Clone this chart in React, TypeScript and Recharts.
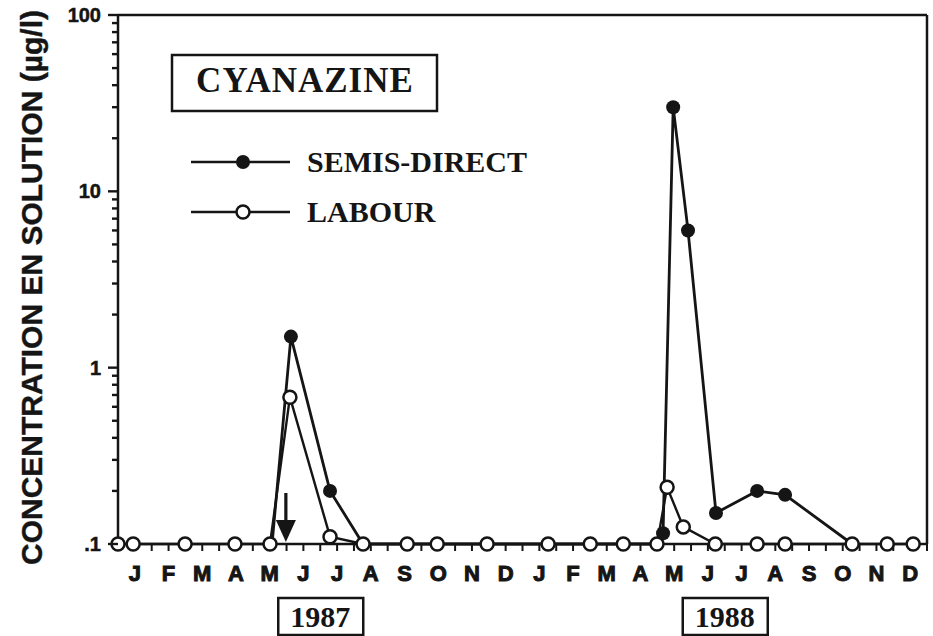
import {
  LineChart,
  Line,
  XAxis,
  YAxis,
  Legend,
  ReferenceLine,
  ReferenceDot,
} from 'recharts';

// months since 1 Jan 1987, concentration in µg/l
const semisMonths = [4.57, 5.13, 6.29, 7.27, 15.93, 16.17, 16.47, 16.91, 17.74, 18.96, 19.79, 21.78];
const semisValues = [0.1, 1.5, 0.2, 0.1, 0.1, 0.115, 30, 6, 0.15, 0.2, 0.19, 0.1];

const labourMonths = [
  0, 0.45, 1.99, 3.47, 4.51, 5.1, 6.29, 7.27, 8.58, 9.47, 10.95, 12.76, 14.01, 14.99, 15.99, 16.29,
  16.77, 17.72, 18.96, 19.79, 21.78, 22.82, 23.59,
];
const labourValues = [
  0.1, 0.1, 0.1, 0.1, 0.1, 0.68, 0.11, 0.1, 0.1, 0.1, 0.1, 0.1, 0.1, 0.1, 0.1, 0.21, 0.125, 0.1, 0.1,
  0.1, 0.1, 0.1, 0.1,
];

const seriesNames = ['SEMIS-DIRECT', 'LABOUR'];
const monthLabels = ['J', 'F', 'M', 'A', 'M', 'J', 'J', 'A', 'S', 'O', 'N', 'D'];
const years = [
  { at: 6, label: '1987' },
  { at: 18, label: '1988' },
];
const decadeTicks = [0.1, 1, 10, 100];
const decadeLabels = ['.1', '1', '10', '100'];
const minorTicks = [
  0.2, 0.3, 0.4, 0.5, 0.6, 0.7, 0.8, 0.9, 2, 3, 4, 5, 6, 7, 8, 9, 20, 30, 40, 50, 60, 70, 80, 90,
];
const applicationMonth = 4.98;

const semisData = semisMonths.map((m, i) => ({ m, v: semisValues[i] }));
const labourData = labourMonths.map((m, i) => ({ m, v: labourValues[i] }));
const xTicks = Array.from({ length: 49 }, (_, i) => i / 2);
const yTicks = [...decadeTicks, ...minorTicks].sort((a, b) => a - b);

const INK = '#151515';
const SANS = '"Liberation Sans", Arial, sans-serif';
const SERIF = '"Liberation Serif", "Times New Roman", serif';

const MonthTick = ({ x, y, payload }: any) => {
  const v = payload.value;
  const year = years.find((yr) => yr.at === v);
  const isMid = v % 1 === 0.5;
  return (
    <g>
      {isMid && (
        <text
          x={x}
          y={y + 26}
          textAnchor="middle"
          fontFamily={SANS}
          fontWeight={700}
          fontSize={22}
          fill={INK}
          stroke={INK}
          strokeWidth={1}
        >
          {monthLabels[Math.floor(v) % 12]}
        </text>
      )}
      {year && (
        <g>
          <rect x={x - 42} y={y + 43} width={85} height={37} fill="none" stroke={INK} strokeWidth={2.5} />
          <text x={x} y={y + 72} textAnchor="middle" fontFamily={SERIF} fontWeight={700} fontSize={30} fill={INK}>
            {year.label}
          </text>
        </g>
      )}
    </g>
  );
};

// x arrives 17px left of the axis line; every log mark is drawn here
const LogTick = ({ x, y, payload }: any) => {
  const idx = decadeTicks.indexOf(payload.value);
  const len = idx >= 0 ? 10 : 6;
  const ax = Number(x) + 17;
  return (
    <g>
      <line x1={ax} x2={ax - len} y1={y} y2={y} stroke={INK} strokeWidth={2.4} />
      {idx >= 0 && (
        <text
          x={x}
          y={y}
          dy={7}
          textAnchor="end"
          fontFamily={SANS}
          fontWeight={700}
          fontSize={20}
          fill={INK}
          stroke={INK}
          strokeWidth={0.5}
        >
          {decadeLabels[idx]}
        </text>
      )}
    </g>
  );
};

const SemisDot = ({ cx, cy, payload, index }: any) =>
  payload.v > 0.1 ? <circle key={index} cx={cx} cy={cy} r={7} fill={INK} /> : <g key={index} />;

const ArrowMark = ({ cx, cy }: any) => (
  <g>
    <line x1={cx} x2={cx} y1={cy - 51} y2={cy - 20} stroke={INK} strokeWidth={3.2} />
    <path d={`M${cx - 10},${cy - 24} L${cx + 10},${cy - 24} L${cx},${cy - 2} Z`} fill={INK} />
  </g>
);

const LegendBox = () => (
  <svg width={390} height={190}>
    <rect x={2} y={3} width={265} height={56} fill="none" stroke={INK} strokeWidth={2.5} />
    <text x={135} y={40} textAnchor="middle" fontFamily={SERIF} fontWeight={700} fontSize={35} letterSpacing={1} fill={INK}>
      CYANAZINE
    </text>
    {seriesNames.map((name, i) => {
      const y = 110 + i * 50;
      return (
        <g key={name}>
          <line x1={21} x2={120} y1={y} y2={y} stroke={INK} strokeWidth={2.5} />
          {i === 0 ? (
            <circle cx={73} cy={y} r={7} fill={INK} />
          ) : (
            <circle cx={73} cy={y} r={6.5} fill="#fff" stroke={INK} strokeWidth={2.5} />
          )}
          <text x={137} y={y + 10} fontFamily={SERIF} fontWeight={700} fontSize={30} fill={INK}>
            {name}
          </text>
        </g>
      );
    })}
  </svg>
);

const YLabel = ({ viewBox }: any) => {
  const cx = viewBox.x + 42;
  const cy = viewBox.y + viewBox.height / 2 + 8;
  return (
    <text
      x={cx}
      y={cy}
      transform={`rotate(-90, ${cx}, ${cy})`}
      textAnchor="middle"
      fontFamily={SANS}
      fontWeight={700}
      fontSize={30}
      fill={INK}
      stroke={INK}
      strokeWidth={0.4}
    >
      CONCENTRATION EN SOLUTION (µg/l)
    </text>
  );
};

export default function App() {
  return (
    <div style={{ position: 'absolute', left: 0, top: 0, width: 933, height: 636, background: '#fff' }}>
      <LineChart width={933} height={636} margin={{ top: 15, right: 6, bottom: 0, left: 0 }}>
        <XAxis
          dataKey="m"
          type="number"
          domain={[0, 24]}
          ticks={xTicks}
          interval={0}
          height={92}
          tickSize={7}
          tickMargin={4}
          tick={<MonthTick />}
          tickLine={{ stroke: INK, strokeWidth: 2 }}
          axisLine={{ stroke: INK, strokeWidth: 2.5 }}
        />
        <YAxis
          type="number"
          scale="log"
          domain={[0.1, 100]}
          ticks={yTicks}
          interval={0}
          width={118}
          tickSize={5}
          tickMargin={12}
          tickLine={false}
          tick={<LogTick />}
          axisLine={{ stroke: INK, strokeWidth: 2.5 }}
          label={{ content: <YLabel /> }}
        />
        <ReferenceLine y={100} stroke={INK} strokeWidth={2.5} />
        <ReferenceLine x={24} stroke={INK} strokeWidth={2.5} />
        <Legend
          layout="horizontal"
          verticalAlign="middle"
          align="center"
          wrapperStyle={{ left: 170, top: 52, width: 390, height: 190 }}
          content={<LegendBox />}
        />
        <Line
          data={semisData}
          dataKey="v"
          name={seriesNames[0]}
          stroke={INK}
          strokeWidth={2.8}
          dot={<SemisDot />}
          activeDot={false}
          isAnimationActive={false}
        />
        <Line
          data={labourData}
          dataKey="v"
          name={seriesNames[1]}
          stroke={INK}
          strokeWidth={2.4}
          dot={{ r: 6.5, fill: '#fff', stroke: INK, strokeWidth: 2.5 }}
          activeDot={false}
          isAnimationActive={false}
        />
        <ReferenceDot x={applicationMonth} y={0.1} ifOverflow="visible" shape={<ArrowMark />} />
      </LineChart>
    </div>
  );
}
